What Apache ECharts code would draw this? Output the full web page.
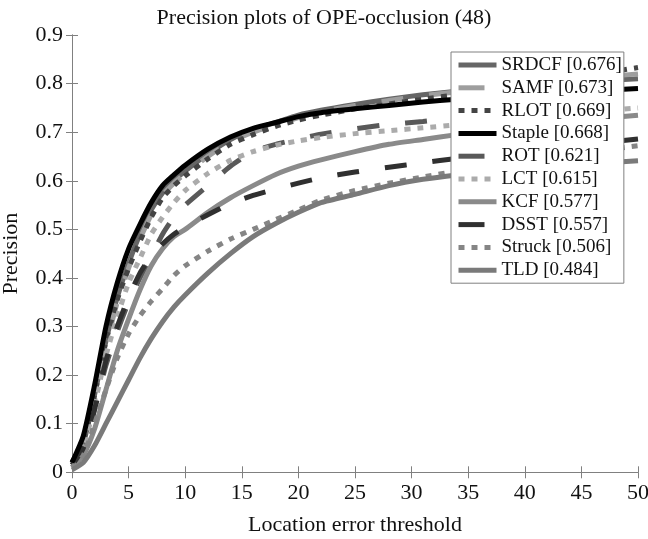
<!DOCTYPE html>
<html>
<head>
<meta charset="utf-8">
<script src="https://cdn.jsdelivr.net/npm/echarts@6/dist/echarts.min.js"></script>
<style>
  html, body { margin: 0; padding: 0; background: #fff; }
  #chart { width: 648px; height: 539px; }
</style>
</head>
<body>
<div id="chart"></div>
<script>
// location error thresholds (x)
const thresholds = [0, 1, 2, 3, 4, 5, 6, 7, 8, 9, 10, 12, 14, 16, 18, 20, 22, 25, 28, 31, 34, 37, 40, 43, 46, 50];

// precision values, one array per tracker
const srdcf  = [0.02, 0.06, 0.16, 0.27, 0.36, 0.43, 0.49, 0.54, 0.575, 0.60, 0.62, 0.655, 0.685, 0.705, 0.72, 0.735, 0.745, 0.757, 0.768, 0.777, 0.784, 0.79, 0.795, 0.80, 0.805, 0.81];
const samf   = [0.02, 0.055, 0.15, 0.26, 0.35, 0.42, 0.48, 0.53, 0.57, 0.595, 0.615, 0.65, 0.68, 0.70, 0.715, 0.73, 0.742, 0.755, 0.765, 0.775, 0.783, 0.79, 0.797, 0.805, 0.812, 0.82];
const rlot   = [0.02, 0.065, 0.16, 0.27, 0.355, 0.42, 0.475, 0.525, 0.565, 0.59, 0.61, 0.645, 0.675, 0.695, 0.712, 0.725, 0.735, 0.748, 0.758, 0.768, 0.777, 0.785, 0.795, 0.805, 0.818, 0.833];
const staple = [0.02, 0.075, 0.18, 0.30, 0.39, 0.46, 0.51, 0.555, 0.59, 0.612, 0.632, 0.665, 0.69, 0.708, 0.72, 0.732, 0.74, 0.748, 0.755, 0.762, 0.768, 0.772, 0.777, 0.781, 0.785, 0.79];
const rot    = [0.015, 0.05, 0.13, 0.22, 0.29, 0.35, 0.40, 0.445, 0.49, 0.525, 0.55, 0.59, 0.63, 0.66, 0.675, 0.686, 0.696, 0.707, 0.716, 0.722, 0.73, 0.736, 0.742, 0.748, 0.753, 0.76];
const lct    = [0.015, 0.05, 0.14, 0.24, 0.32, 0.39, 0.44, 0.49, 0.525, 0.555, 0.58, 0.615, 0.642, 0.66, 0.673, 0.682, 0.689, 0.697, 0.703, 0.709, 0.715, 0.722, 0.73, 0.737, 0.743, 0.75];
const kcf    = [0.01, 0.035, 0.09, 0.17, 0.25, 0.315, 0.375, 0.425, 0.46, 0.485, 0.50, 0.535, 0.565, 0.59, 0.613, 0.63, 0.643, 0.66, 0.675, 0.685, 0.695, 0.703, 0.712, 0.72, 0.727, 0.735];
const dsst   = [0.015, 0.05, 0.13, 0.23, 0.30, 0.36, 0.41, 0.445, 0.47, 0.49, 0.505, 0.53, 0.553, 0.57, 0.583, 0.595, 0.606, 0.618, 0.628, 0.637, 0.646, 0.654, 0.662, 0.669, 0.676, 0.686];
const struck = [0.01, 0.035, 0.10, 0.17, 0.235, 0.285, 0.322, 0.352, 0.378, 0.405, 0.425, 0.455, 0.48, 0.50, 0.52, 0.54, 0.56, 0.58, 0.595, 0.608, 0.62, 0.63, 0.64, 0.65, 0.66, 0.672];
const tld    = [0.005, 0.02, 0.055, 0.10, 0.145, 0.19, 0.235, 0.275, 0.31, 0.34, 0.365, 0.41, 0.45, 0.485, 0.512, 0.535, 0.555, 0.572, 0.59, 0.603, 0.612, 0.619, 0.625, 0.63, 0.635, 0.641];

const names = ["SRDCF [0.676]", "SAMF [0.673]", "RLOT [0.669]", "Staple [0.668]", "ROT [0.621]",
               "LCT [0.615]", "KCF [0.577]", "DSST [0.557]", "Struck [0.506]", "TLD [0.484]"];
const values = [srdcf, samf, rlot, staple, rot, lct, kcf, dsst, struck, tld];

// line look per tracker
const colors = ["#666666", "#9e9e9e", "#444444", "#000000", "#595959", "#ababab", "#8a8a8a", "#303030", "#858585", "#7a7a7a"];
const dashes = ["solid", [22, 26], [6, 7], "solid", [22, 26], [6, 7], "solid", [22, 26], [6, 7], "solid"];

const font = "Liberation Serif";

let myChart = echarts.init(document.getElementById("chart"));

let series = values.map(function (v, i) {
  return {
    name: names[i],
    type: "line",
    data: thresholds.map(function (t, k) { return [t, v[k]]; }),
    symbol: "none",
    showSymbol: false,
    smooth: 0.2,
    lineStyle: { color: colors[i], width: 5, type: dashes[i], cap: "butt", join: "round" },
    itemStyle: { color: colors[i] },
    z: 2 + (i === 3 ? 1 : 0),
    silent: true
  };
});

// legend entries: short thick samples like the matlab legend
let legendData = names.map(function (n, i) {
  return {
    name: n,
    itemStyle: { opacity: 0 },
    lineStyle: { color: colors[i], width: 5, type: dashes[i] === "solid" ? "solid" : (i % 3 === 2 ? [6, 7] : [26, 100]), cap: "butt" }
  };
});

let tickStyle = { lineStyle: { color: "#808080", width: 1 } };

let option = {
  animation: false,
  backgroundColor: "#fff",
  title: {
    text: "Precision plots of OPE-occlusion (48)",
    left: "center",
    top: 2,
    textStyle: { fontFamily: font, fontSize: 22, fontWeight: "normal", color: "#111" }
  },
  legend: {
    orient: "vertical",
    left: 451,
    top: 52,
    z: 50,
    padding: [3, 2, 3, 5],
    itemWidth: 38,
    itemHeight: 20,
    itemGap: 2.8,
    borderColor: "#808080",
    borderWidth: 1,
    backgroundColor: "#fff",
    itemStyle: { opacity: 0 },
    data: legendData,
    textStyle: { fontFamily: font, fontSize: 19, color: "#111", lineHeight: 20 }
  },
  grid: { left: 72, right: 10, top: 35, bottom: 66.7, containLabel: false, outerBoundsMode: "none" },
  xAxis: [
    {
      type: "value", min: 0, max: 50, interval: 5,
      name: "Location error threshold", nameLocation: "middle", nameGap: 42,
      nameTextStyle: { fontFamily: font, fontSize: 22, color: "#111" },
      axisLine: tickStyle,
      axisTick: { inside: true, length: 6, lineStyle: tickStyle.lineStyle },
      axisLabel: { fontFamily: font, fontSize: 22, color: "#111", margin: 10 },
      splitLine: { show: false }
    },
    {
      type: "value", min: 0, max: 50, interval: 5, position: "top",
      axisLine: tickStyle,
      axisTick: { inside: true, length: 6, lineStyle: tickStyle.lineStyle },
      axisLabel: { show: false },
      splitLine: { show: false }
    }
  ],
  yAxis: [
    {
      type: "value", min: 0, max: 0.9, interval: 0.1,
      name: "Precision", nameLocation: "middle", nameGap: 50,
      nameTextStyle: { fontFamily: font, fontSize: 22, color: "#111" },
      axisLine: { show: true, lineStyle: tickStyle.lineStyle },
      axisTick: { show: true, inside: true, length: 6, lineStyle: tickStyle.lineStyle },
      axisLabel: { fontFamily: font, fontSize: 22, color: "#111", margin: 9 },
      splitLine: { show: false }
    },
    {
      type: "value", min: 0, max: 0.9, interval: 0.1, position: "right",
      axisLine: { show: true, lineStyle: tickStyle.lineStyle },
      axisTick: { show: true, inside: true, length: 6, lineStyle: tickStyle.lineStyle },
      axisLabel: { show: false },
      splitLine: { show: false }
    }
  ],
  series: series
};

option && myChart.setOption(option);
</script>
</body>
</html>
